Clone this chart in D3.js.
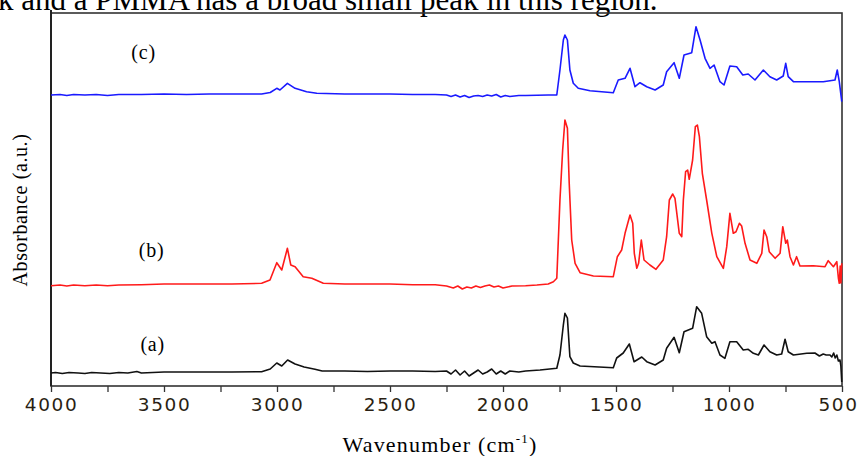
<!DOCTYPE html>
<html>
<head>
<meta charset="utf-8">
<script src="https://cdn.jsdelivr.net/npm/d3@7"></script>
<style>
  html, body { margin: 0; padding: 0; background: #fff; }
  svg { display: block; }
</style>
</head>
<body>
<div id="chart"></div>
<script>

// spectra: [wavenumber (cm-1), absorbance (a.u., offset)]
var spec_a = [
  [4000, 0.13], [3980, 0.135], [3950, 0.125], [3920, 0.135], [3880, 0.13], [3850, 0.125],
  [3820, 0.135], [3780, 0.13], [3740, 0.125], [3700, 0.135], [3660, 0.13], [3620, 0.145],
  [3600, 0.13], [3500, 0.14], [3400, 0.14], [3300, 0.14], [3200, 0.14], [3068, 0.143],
  [3030, 0.17], [3001, 0.23], [2979, 0.20], [2953, 0.26], [2920, 0.22], [2880, 0.19],
  [2832, 0.167], [2800, 0.15], [2700, 0.15], [2600, 0.145], [2500, 0.15], [2400, 0.15],
  [2300, 0.145], [2250, 0.15], [2230, 0.12], [2210, 0.16], [2190, 0.11], [2170, 0.15],
  [2150, 0.10], [2130, 0.13], [2110, 0.16], [2090, 0.12], [2070, 0.14], [2050, 0.17],
  [2030, 0.12], [2010, 0.15], [1990, 0.12], [1970, 0.15], [1930, 0.14], [1900, 0.15],
  [1836, 0.16], [1762, 0.177], [1748, 0.31], [1733, 0.61], [1726, 0.727], [1715, 0.68],
  [1704, 0.293], [1689, 0.23], [1659, 0.20], [1512, 0.183], [1497, 0.28], [1468, 0.33],
  [1441, 0.42], [1420, 0.243], [1386, 0.29], [1364, 0.243], [1327, 0.21], [1291, 0.26],
  [1276, 0.377], [1243, 0.487], [1220, 0.333], [1199, 0.543], [1180, 0.56], [1161, 0.577],
  [1143, 0.793], [1121, 0.727], [1099, 0.493], [1076, 0.427], [1062, 0.443], [1040, 0.31],
  [1018, 0.277], [996, 0.443], [966, 0.443], [937, 0.36], [915, 0.367], [892, 0.327],
  [870, 0.31], [845, 0.41], [819, 0.343], [789, 0.31], [767, 0.32], [752, 0.467],
  [738, 0.343], [715, 0.31], [656, 0.327], [620, 0.33], [600, 0.30], [583, 0.32],
  [570, 0.31], [553, 0.31], [545, 0.29], [537, 0.33], [530, 0.28], [523, 0.31],
  [516, 0.25], [509, 0.26], [505, 0.2], [501, 0.04]
]

var spec_b = [
  [4000, 1.003], [3960, 1.01], [3930, 1.0], [3900, 1.01], [3850, 1.003], [3800, 1.01],
  [3750, 1.003], [3700, 1.01], [3600, 1.013], [3500, 1.02], [3400, 1.02], [3300, 1.02],
  [3200, 1.02], [3068, 1.027], [3031, 1.06], [3001, 1.233], [2979, 1.16], [2954, 1.377],
  [2939, 1.21], [2920, 1.193], [2884, 1.093], [2846, 1.077], [2795, 1.027], [2700, 1.02],
  [2600, 1.02], [2500, 1.02], [2400, 1.013], [2300, 1.013], [2250, 1.0], [2220, 0.98],
  [2200, 1.0], [2180, 0.97], [2160, 0.99], [2140, 0.98], [2120, 1.0], [2100, 0.985],
  [2080, 1.0], [2060, 1.01], [2040, 0.99], [2020, 1.0], [2000, 0.98], [1980, 0.99],
  [1960, 1.0], [1900, 1.003], [1850, 1.01], [1800, 1.02], [1777, 1.043], [1762, 1.077],
  [1748, 1.86], [1736, 2.36], [1726, 2.66], [1715, 2.577], [1707, 2.027], [1696, 1.46],
  [1681, 1.227], [1659, 1.133], [1600, 1.10], [1512, 1.093], [1494, 1.293], [1475, 1.36],
  [1460, 1.527], [1438, 1.71], [1426, 1.627], [1419, 1.327], [1408, 1.177], [1400, 1.227],
  [1388, 1.46], [1376, 1.26], [1350, 1.21], [1323, 1.167], [1291, 1.26], [1276, 1.493],
  [1264, 1.86], [1249, 1.92], [1239, 1.877], [1220, 1.527], [1209, 1.493], [1202, 1.86],
  [1192, 2.143], [1183, 2.16], [1176, 2.067], [1161, 2.26], [1149, 2.593], [1140, 2.61],
  [1131, 2.493], [1118, 2.127], [1099, 1.86], [1076, 1.527], [1054, 1.293], [1025, 1.177],
  [1010, 1.393], [996, 1.727], [981, 1.527], [969, 1.543], [954, 1.627], [944, 1.60],
  [929, 1.427], [907, 1.26], [877, 1.227], [855, 1.327], [845, 1.56], [833, 1.493],
  [822, 1.343], [796, 1.277], [774, 1.327], [762, 1.593], [749, 1.427], [742, 1.46],
  [730, 1.293], [715, 1.21], [701, 1.293], [686, 1.20], [627, 1.203], [575, 1.193],
  [561, 1.253], [538, 1.193], [523, 1.243], [516, 1.08], [512, 1.027], [508, 1.2],
  [505, 1.03], [501, 1.227]
]

var spec_c = [
  [4000, 2.91], [3960, 2.915], [3930, 2.905], [3900, 2.915], [3850, 2.91], [3800, 2.915],
  [3750, 2.905], [3700, 2.915], [3600, 2.915], [3500, 2.92], [3400, 2.915], [3300, 2.92],
  [3200, 2.92], [3068, 2.92], [3030, 2.935], [3001, 2.977], [2987, 2.96], [2954, 3.027],
  [2920, 2.977], [2869, 2.943], [2824, 2.927], [2700, 2.92], [2600, 2.92], [2500, 2.92],
  [2400, 2.915], [2300, 2.915], [2250, 2.91], [2230, 2.895], [2210, 2.91], [2190, 2.89],
  [2170, 2.905], [2150, 2.885], [2130, 2.9], [2110, 2.905], [2090, 2.895], [2070, 2.91],
  [2050, 2.9], [2030, 2.915], [2010, 2.89], [1990, 2.905], [1970, 2.895], [1930, 2.905],
  [1900, 2.905], [1800, 2.91], [1762, 2.91], [1748, 3.16], [1733, 3.46], [1726, 3.51],
  [1715, 3.46], [1704, 3.16], [1689, 3.027], [1667, 2.977], [1615, 2.953], [1512, 2.933],
  [1490, 3.06], [1460, 3.077], [1438, 3.177], [1416, 2.993], [1394, 3.033], [1364, 2.993],
  [1327, 2.96], [1291, 3.01], [1276, 3.143], [1243, 3.233], [1220, 3.077], [1199, 3.31],
  [1165, 3.333], [1146, 3.593], [1128, 3.46], [1106, 3.277], [1084, 3.177], [1066, 3.21],
  [1040, 3.043], [1022, 3.01], [996, 3.20], [966, 3.193], [939, 3.11], [915, 3.12],
  [885, 3.06], [848, 3.16], [819, 3.093], [789, 3.06], [760, 3.10], [749, 3.227],
  [738, 3.093], [715, 3.043], [656, 3.043], [583, 3.043], [531, 3.06], [521, 3.16],
  [512, 3.043], [501, 2.843]
]

var series = [
  { name: 'a', data: spec_a, color: '#111111' },
  { name: 'b', data: spec_b, color: '#ff1a1a' },
  { name: 'c', data: spec_c, color: '#1a1aff' }
]

var curve_labels = [
  { text: '(c)', wn: 3590, y: 3.27 },
  { text: '(b)', wn: 3555, y: 1.29 },
  { text: '(a)', wn: 3550, y: 0.35 }
]

var tick_values = d3.range(4000, 499, -250)

var width = 861
var height = 456
// plot box (avoid the name "top", it is window.top)
var box = { left: 51, right: 842, top: 13, bottom: 386 }

var svg = d3.select('#chart').append('svg')
  .attr('width', width)
  .attr('height', height)

var x = d3.scaleLinear().domain([4000, 500]).range([box.left, box.right])
var y = d3.scaleLinear().domain([0, 3.73]).range([box.bottom, box.top])

var serif = '"Liberation Serif", "Times New Roman", serif'

// clipped sentence of the page above the figure
svg.append('text')
  .attr('x', -2)
  .attr('y', 10)
  .style('font-family', serif)
  .style('font-size', '31px')
  .attr('fill', '#000')
  .text('k and a PMMA has a broad small peak in this region.')

// frame
svg.append('rect')
  .attr('x', box.left)
  .attr('y', box.top)
  .attr('width', box.right - box.left)
  .attr('height', box.bottom - box.top)
  .attr('fill', 'none')
  .attr('stroke', '#333')
  .attr('stroke-width', 1.6)

svg.append('line')
  .attr('x1', box.left).attr('x2', box.left)
  .attr('y1', 10).attr('y2', box.bottom)
  .attr('stroke', '#222')
  .attr('stroke-width', 2)

var line = d3.line()
  .x(function(d) { return x(d[0]) })
  .y(function(d) { return y(d[1]) })

series.forEach(function(s) {
  svg.append('path')
    .datum(s.data)
    .attr('d', line)
    .attr('fill', 'none')
    .attr('stroke', s.color)
    .attr('stroke-width', 1.6)
    .attr('stroke-linejoin', 'round')
})

// x axis
var x_axis = d3.axisBottom(x)
  .tickValues(tick_values)
  .tickSize(6)
  .tickPadding(6)
  .tickFormat(function(d) { return d % 500 === 0 ? d : '' })

var gx = svg.append('g')
  .attr('transform', 'translate(0,' + box.bottom + ')')
  .call(x_axis)

gx.select('.domain').remove()
gx.selectAll('.tick line').attr('stroke', '#333').attr('stroke-width', 1.3)
gx.selectAll('.tick text')
  .attr('fill', '#2a1f14')
  .style('font-family', '"DejaVu Sans", Verdana, sans-serif')
  .style('font-size', '18.5px')
  .style('letter-spacing', '1.6px')

// last label sits against the page edge
gx.selectAll('.tick text')
  .filter(function(d) { return d === 500 })
  .attr('dx', -4)

var xlabel = svg.append('text')
  .attr('x', 440)
  .attr('y', 452)
  .attr('text-anchor', 'middle')
  .style('font-family', serif)
  .style('font-size', '22px')
  .style('letter-spacing', '1.2px')

xlabel.append('tspan').text('Wavenumber (cm')
xlabel.append('tspan').attr('dy', -9).style('font-size', '13px').text('-1')
xlabel.append('tspan').attr('dy', 9).text(')')

svg.append('text')
  .attr('transform', 'translate(27,210) rotate(-90)')
  .attr('text-anchor', 'middle')
  .style('font-family', serif)
  .style('font-size', '20px')
  .style('letter-spacing', '0.6px')
  .text('Absorbance (a.u.)')

curve_labels.forEach(function(l) {
  svg.append('text')
    .attr('x', x(l.wn))
    .attr('y', y(l.y))
    .attr('text-anchor', 'middle')
    .style('font-family', serif)
    .style('font-size', '20px')
    .style('letter-spacing', '0.8px')
    .text(l.text)
})

</script>
</body>
</html>
